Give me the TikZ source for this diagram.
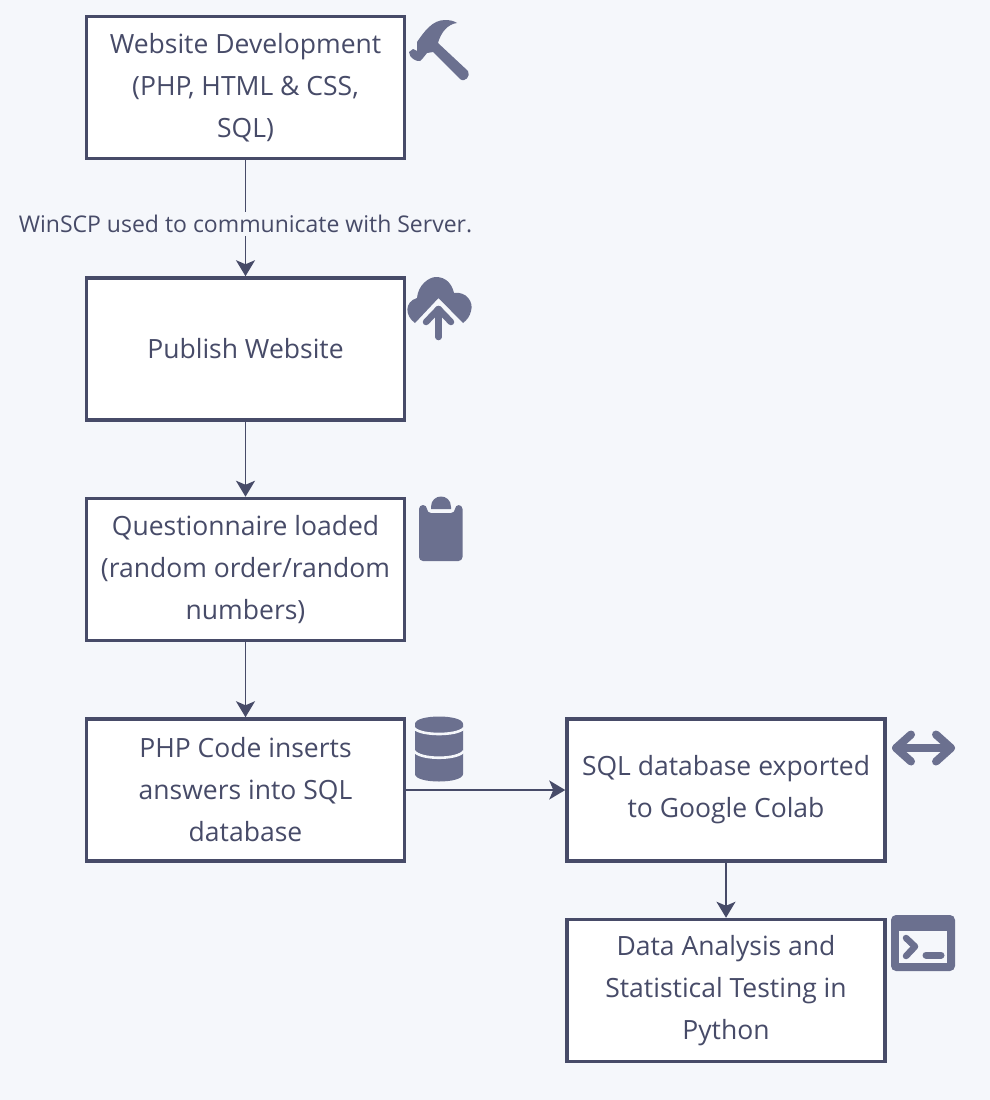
\documentclass[tikz,border=0pt]{standalone}
\usepackage{xcolor}
\usepackage{fontspec}
\setmainfont{Open Sans}
\usetikzlibrary{arrows.meta, positioning}
\definecolor{pagebg}{RGB}{245,247,251}
\definecolor{inkcol}{RGB}{71,75,104}
\definecolor{iconcol}{RGB}{107,112,143}
\tikzstyle{arrow} = [line width=1.7pt, draw=inkcol, -{Stealth[length=16pt,width=19pt,inset=4pt]}]

\begin{document}
\begin{tikzpicture}[
    x=1pt, y=-1pt,
    step box/.style={rectangle, draw=inkcol, line width=3.5pt, fill=white, text=inkcol, minimum width=318pt, minimum height=142pt, align=center, font=\fontsize{26.5}{42}\selectfont},
    edge label/.style={fill=pagebg, text=inkcol, inner sep=3pt, font=\fontsize{23}{28}\selectfont},
    icon/.style={fill=iconcol},
    icon line/.style={draw=iconcol, line cap=round, line join=round},
    icon gap/.style={draw=pagebg, line width=2.6pt}
]

\fill[pagebg] (0,0) rectangle (990,1100);
\useasboundingbox (0,0) rectangle (990,1100);

% Nodes
\node (develop) [step box] at (245.5,87.5) {Website Development\\(PHP, HTML \& CSS,\\SQL)};
\node (publish) [step box, below=116pt of develop] {Publish Website};
\node (questions) [step box, below=75pt of publish] {Questionnaire loaded\\(random order/random\\numbers)};
\node (insert) [step box, below=75pt of questions] {PHP Code inserts\\answers into SQL\\database};
\node (export) [step box, right=159pt of insert] {SQL database exported\\to Google Colab};
\node (analysis) [step box, below=55pt of export] {Data Analysis and\\Statistical Testing in\\Python};

% Edges
\draw [arrow] (develop) -- node[pos=0.55, edge label] {WinSCP used to communicate with Server.} (publish);
\draw [arrow] (publish) -- (questions);
\draw [arrow] (questions) -- (insert);
\draw [arrow] (insert) -- (export);
\draw [arrow] (export) -- (analysis);

% Icons
\fill[icon] (409,52) -- (413,49) -- (417,51) -- (417,42) .. controls (424,32) and (432,20) .. (445,20) .. controls (450,20) and (454,21) .. (457,23) .. controls (448,24) and (441,32) .. (438,43) -- (468,71) .. controls (471,76) and (465,83) .. (460,79) -- (433,52) -- (427,53) -- (423,58) -- (420,61) .. controls (417,62) and (409,58) .. (409,52) -- cycle;

\fill[icon] (415,323) .. controls (405,316) and (404,302) .. (417,298) .. controls (418,285) and (429,277) .. (436,277) .. controls (446,277) and (452,284) .. (454,293) .. controls (466,291) and (474,302) .. (471,311) .. controls (470,316) and (467,320) .. (463,323) -- (438.5,298) -- cycle;
\draw[icon line, line width=6.5pt] (438.5,309) -- (438.5,337);
\draw[icon line, line width=6.5pt] (426,322) -- (438.5,309) -- (451,322);

\fill[icon, rounded corners=4pt] (419,505) -- (427,505) -- (427,513) -- (455,513) -- (455,505) -- (462.5,505) -- (462.5,561) -- (419,561) -- cycle;
\fill[icon] (431,509) -- (431,507) .. controls (431,493) and (451,493) .. (451,507) -- (451,509) -- cycle;

\fill[icon] (415,724) .. controls (415,714) and (463,714) .. (463,724) -- (463,774) .. controls (463,784) and (415,784) .. (415,774) -- cycle;
\draw[icon gap] (414,728) .. controls (420,736) and (458,736) .. (464,728);
\draw[icon gap] (414,751) .. controls (420,760) and (458,760) .. (464,751);

\draw[icon line, line width=8pt] (896,748) -- (951,748);
\draw[icon line, line width=8pt] (911,734.5) -- (896,748) -- (911,761.5);
\draw[icon line, line width=8pt] (936,734.5) -- (951,748) -- (936,761.5);

\fill[icon, rounded corners=5pt] (891,915) rectangle (955,971);
\fill[pagebg] (899,931) rectangle (947,963);
\draw[icon line, line width=6.5pt] (906,938) -- (915,946.5) -- (906,956);
\draw[icon line, line width=7pt] (926,955) -- (941,955);

\end{tikzpicture}
\end{document}
